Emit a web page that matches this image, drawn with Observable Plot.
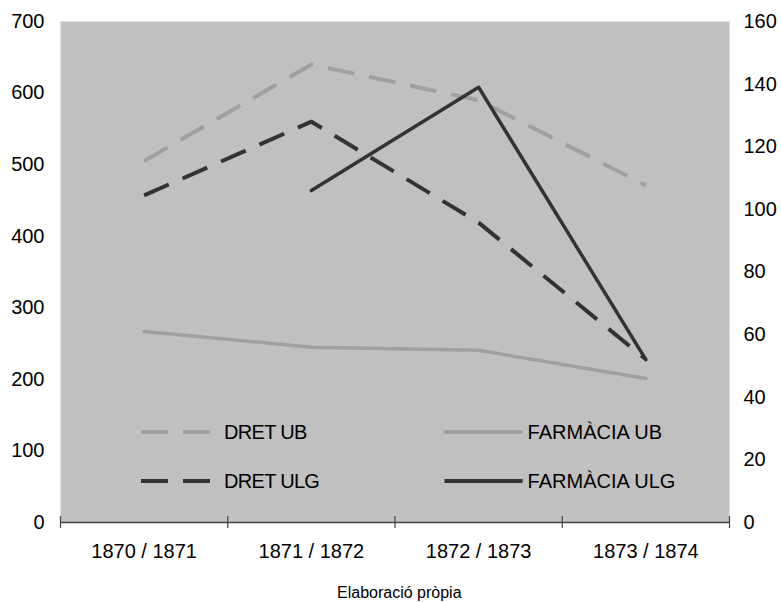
<!DOCTYPE html>
<html>
<head>
<meta charset="utf-8">
<script src="https://cdn.jsdelivr.net/npm/d3@7"></script>
<script src="https://cdn.jsdelivr.net/npm/@observablehq/plot@0.6"></script>
<style>
  html, body { margin: 0; padding: 0; background: #fff; }
  #wrap { position: relative; width: 781px; height: 602px; font-family: "Liberation Sans", Arial, sans-serif; }
  #chart svg { display: block; }
  #legend { position: absolute; left: 0; top: 0; pointer-events: none; }
  #caption { position: absolute; left: 337px; top: 585px; font-size: 16px; line-height: 16px; color: #000; white-space: nowrap; }
</style>
</head>
<body>
<div id="wrap">
  <div id="chart"></div>
  <svg id="legend" width="781" height="602"></svg>
  <div id="caption">Elaboració pròpia</div>
</div>
<script>
const categories = ["1870 / 1871", "1871 / 1872", "1872 / 1873", "1873 / 1874"];
const seriesNames = ["DRET UB", "DRET ULG", "FARMÀCIA UB", "FARMÀCIA ULG"];
// left axis (Dret)
const dretUB = [505, 640, 590, 471];
const dretULG = [457, 560, 419, 228];
// right axis (Farmàcia)
const farmaciaUB = [61, 56, 55, 46];
const farmaciaULG = [null, 106, 139, 52];
const leftTicks = [0, 100, 200, 300, 400, 500, 600, 700];
const rightTicks = [0, 20, 40, 60, 80, 100, 120, 140, 160];

const ratio = 700 / 160;
const idx = categories.map((_, i) => i);
const boundaries = [-0.5, 0.5, 1.5, 2.5, 3.5];

function rows(values, scale) {
  return values.map((v, i) => ({i, v: v == null ? null : v * scale})).filter(d => d.v != null);
}

const light = "#a0a0a0", dark = "#333333";

const chart = Plot.plot({
  width: 781,
  height: 602,
  marginLeft: 60,
  marginRight: 52,
  marginTop: 21,
  marginBottom: 80,
  style: {fontFamily: "'Liberation Sans', Arial, sans-serif", fontSize: "20px", background: "#fff", color: "#000"},
  x: {type: "linear", domain: [-0.5, 3.5]},
  y: {domain: [0, 700]},
  marks: [
    Plot.frame({fill: "#c0c0c0", stroke: "none"}),
    Plot.axisY({ticks: leftTicks, tickSize: 0, tickPadding: 16, label: null, tickFormat: d => d}),
    Plot.axisY({anchor: "right", ticks: rightTicks.map(v => v * ratio), tickFormat: d => Math.round(d / ratio), tickSize: 0, tickPadding: 14, label: null}),
    Plot.axisX({ticks: idx, tickFormat: i => categories[i], tickSize: 0, tickPadding: 21, label: null}),
    Plot.axisX({ticks: boundaries, tickFormat: () => "", tickSize: 6, label: null, stroke: "#444", strokeWidth: 1.2}),
    Plot.ruleX(boundaries, {x: d => d, y1: 0, y2: 8.4, stroke: "#444", strokeWidth: 1.2}),
    Plot.ruleY([0], {stroke: "#444", strokeWidth: 1.5}),
    Plot.line(rows(dretUB, 1), {x: "i", y: "v", stroke: light, strokeWidth: 4, strokeDasharray: "27,15", strokeLinecap: "butt"}),
    Plot.line(rows(dretULG, 1), {x: "i", y: "v", stroke: dark, strokeWidth: 4, strokeDasharray: "27,15", strokeLinecap: "butt"}),
    Plot.line(rows(farmaciaUB, ratio), {x: "i", y: "v", stroke: light, strokeWidth: 3.5}),
    Plot.line(rows(farmaciaULG, ratio), {x: "i", y: "v", stroke: dark, strokeWidth: 3.5})
  ]
});
document.getElementById("chart").appendChild(chart);

// legend
const legendItems = [
  {name: seriesNames[0], color: light, dash: "27,15", x1: 141, x2: 210, tx: 224, y: 432, ls: "-0.7px"},
  {name: seriesNames[1], color: dark, dash: "27,15", x1: 141, x2: 210, tx: 224, y: 481, ls: "-0.7px"},
  {name: seriesNames[2], color: light, dash: null, x1: 444.5, x2: 522.6, tx: 527.6, y: 432, ls: "0px"},
  {name: seriesNames[3], color: dark, dash: null, x1: 444.5, x2: 522.6, tx: 527.6, y: 481, ls: "0px"}
];
const lg = d3.select("#legend");
for (const it of legendItems) {
  lg.append("line").attr("x1", it.x1).attr("x2", it.x2).attr("y1", it.y).attr("y2", it.y)
    .attr("stroke", it.color).attr("stroke-width", 4).attr("stroke-dasharray", it.dash);
  lg.append("text").attr("x", it.tx).attr("y", it.y + 7.2).text(it.name)
    .attr("font-family", "'Liberation Sans', Arial, sans-serif").attr("font-size", 20)
    .attr("letter-spacing", it.ls).attr("fill", "#000");
}
</script>
</body>
</html>
